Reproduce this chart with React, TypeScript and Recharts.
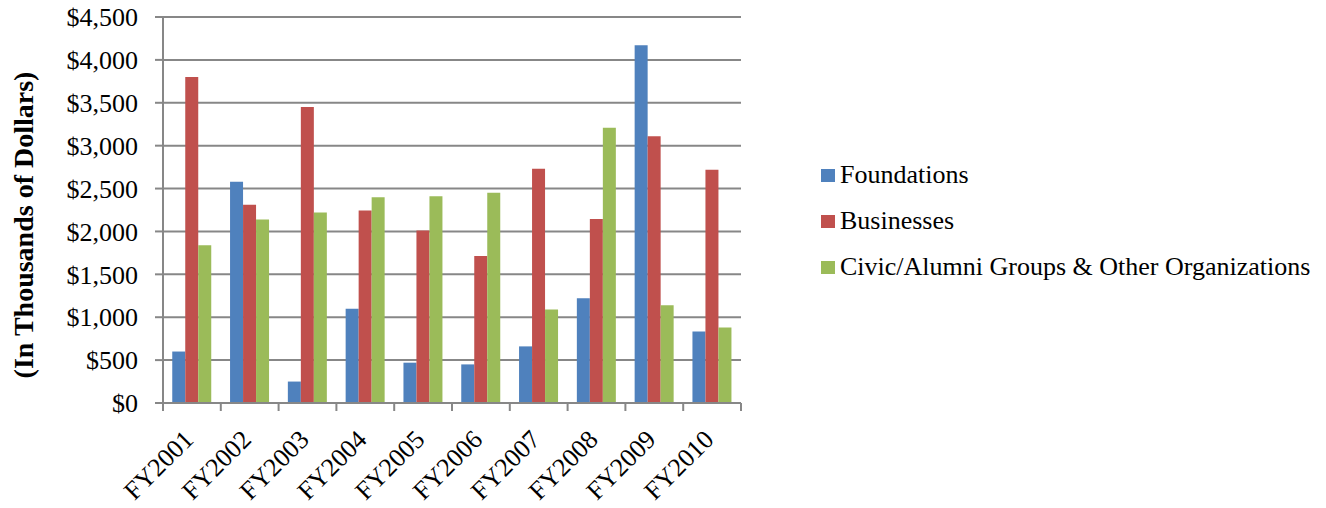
import React from "react";
import { BarChart, Bar, XAxis, YAxis, CartesianGrid, Legend } from "recharts";

const years = ["FY2001", "FY2002", "FY2003", "FY2004", "FY2005", "FY2006", "FY2007", "FY2008", "FY2009", "FY2010"];
const foundations = [600, 2580, 250, 1100, 470, 450, 660, 1220, 4170, 835];
const businesses = [3800, 2310, 3450, 2245, 2010, 1715, 2730, 2145, 3110, 2720];
const civic = [1840, 2140, 2220, 2400, 2410, 2450, 1090, 3210, 1140, 880];
const yTicks = [0, 500, 1000, 1500, 2000, 2500, 3000, 3500, 4000, 4500];

const series = [
  { key: "foundations", name: "Foundations", color: "#4F81BD" },
  { key: "businesses", name: "Businesses", color: "#C0504D" },
  { key: "civic", name: "Civic/Alumni Groups & Other Organizations", color: "#9BBB59" },
];

const data = years.map((year, i) => ({
  year,
  foundations: foundations[i],
  businesses: businesses[i],
  civic: civic[i],
}));

const FONT = "Liberation Serif";
const GRID = "#878787";

function money(v: number) {
  return "$" + v.toLocaleString("en-US");
}

// category label plus Excel-style tick marks on the category boundaries
function XTick({ x, y, payload, index, visibleTicksCount }: any) {
  const half = payload.offset || 0;
  const tx = x + 3;
  const ty = y + 38;
  const isLast = index === visibleTicksCount - 1;
  return (
    <g>
      <line x1={x - half} x2={x - half} y1={y} y2={y + 8} stroke={GRID} strokeWidth={2} />
      {isLast && <line x1={x + half} x2={x + half} y1={y} y2={y + 8} stroke={GRID} strokeWidth={2} />}
      <text
        x={tx}
        y={ty}
        transform={`rotate(-45 ${tx} ${ty})`}
        textAnchor="end"
        style={{ fontFamily: FONT, fontSize: 26 }}
        fill="#000"
      >
        {payload.value}
      </text>
    </g>
  );
}

function YLabel({ viewBox }: any) {
  const cx = viewBox.x + 23;
  const cy = viewBox.y + viewBox.height / 2 + 15;
  return (
    <text
      x={cx}
      y={cy}
      transform={`rotate(-90 ${cx} ${cy})`}
      textAnchor="middle"
      dominantBaseline="central"
      style={{ fontFamily: FONT, fontSize: 28, fontWeight: "bold" }}
      fill="#000"
    >
      (In Thousands of Dollars)
    </text>
  );
}

function LegendBox() {
  return (
    <div style={{ fontFamily: FONT, fontSize: 26, color: "#000", lineHeight: "46px" }}>
      {series.map((s) => (
        <div key={s.key} style={{ display: "flex", alignItems: "center", height: 46 }}>
          <span style={{ width: 14, height: 13, background: s.color, marginRight: 5, display: "inline-block" }} />
          <span>{s.name}</span>
        </div>
      ))}
    </div>
  );
}

export default function App() {
  return (
    <div style={{ position: "absolute", left: 0, top: 0, width: 1326, height: 508, background: "#fff" }}>
      <BarChart
        width={1326}
        height={508}
        data={data}
        margin={{ top: 17, right: 585, bottom: 0, left: 0 }}
        barCategoryGap="16%"
        barGap={0}
      >
        <CartesianGrid vertical={false} stroke={GRID} strokeWidth={2} />
        <XAxis
          dataKey="year"
          interval={0}
          tick={<XTick />}
          tickLine={false}
          tickSize={0}
          tickMargin={0}
          axisLine={{ stroke: GRID, strokeWidth: 2 }}
          height={105}
        />
        <YAxis
          width={163}
          domain={[0, 4500]}
          ticks={yTicks}
          interval={0}
          tickFormatter={money}
          tickSize={8}
          tickMargin={17}
          tickLine={{ stroke: GRID, strokeWidth: 2 }}
          axisLine={{ stroke: GRID, strokeWidth: 2 }}
          tick={{ fontFamily: FONT, fontSize: 26, fill: "#000" }}
          label={<YLabel />}
        />
        <Legend
          layout="vertical"
          align="center"
          verticalAlign="middle"
          content={<LegendBox />}
          wrapperStyle={{ position: "absolute", left: 821, top: 152, width: 500 }}
        />
        {series.map((s) => (
          <Bar key={s.key} dataKey={s.key} name={s.name} fill={s.color} isAnimationActive={false} />
        ))}
      </BarChart>
    </div>
  );
}
